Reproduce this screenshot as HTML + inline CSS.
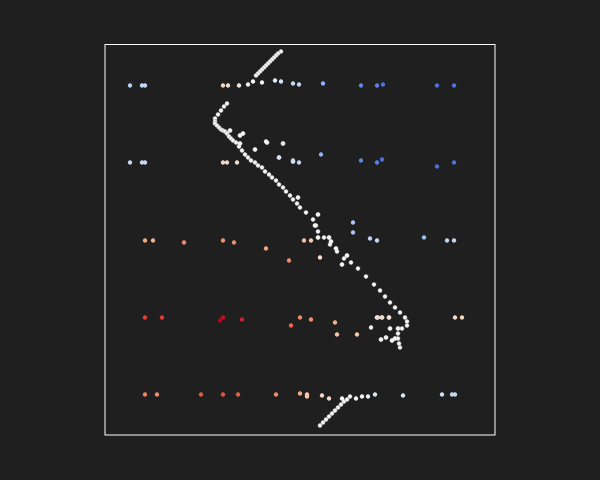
<!DOCTYPE html>
<html><head><meta charset="utf-8"><style>
html,body{margin:0;padding:0;background:#1f1f1f;width:600px;height:480px;overflow:hidden;font-family:"Liberation Sans",sans-serif}
</style></head><body>
<svg id="chart" width="600" height="480" xmlns="http://www.w3.org/2000/svg">
<rect x="105" y="44.5" width="390" height="390.5" fill="#1f1f1f" stroke="#ffffff" stroke-width="1"/>
<g id="pts"></g>
</svg>
<script>
// colored scatter points: x, y (plot offsets), color
const colorX = [25,37,40,118,123,134,143,148,157,170,176,188,194,218,256,272,278,332,349,
 25,37,40,118,122,132,161,178,174,188,194,216,256,272,277,332,349,
 40,48,79,118,129,161,184,199,206,215,248,248,265,272,319,342,349,
 40,57,115,118,137,195,186,206,230,232,252,266,273,277,284,350,357,
 40,52,96,118,133,171,195,202,202,217,224,237,251,257,263,270,298,337,347,350];
const colorY = [41,41,41,41,41,41,40,37,38,36,37,39,40,39,41,41,40,41,41,
 118,118,118,118,118,118,97,99,113,116,118,110,116,118,115,122,118,
 196,196,198,196,198,204,216,196,196,213,178,188,194,196,193,196,196,
 273,273,276,273,275,273,281,275,278,290,290,283,273,273,273,273,273,
 350,350,350,350,350,350,349,350,352,351,354,354,354,352,352,350,351,350,350,350];
const colorC = ["#b7d0f5","#c4d8f5","#c4d8f5","#f3d6c6","#f0dccf","#f1e6dd","#f4f0ee","#f6f6f6","#f2f2f2","#e6edf8","#d8e4f7","#c8dbf6","#bfd4f6","#8fb0f5","#5f85e8","#5a80e8","#4d72e0","#4d72e0","#4d72e0",
 "#c4d8f5","#c4d8f5","#c4d8f5","#f3d6c6","#f3d6c6","#f2dccf","#eef2fa","#dde7f7","#d6e2f7","#c8dbf6","#bfd4f6","#8fb0f5","#5f85e8","#5a80e8","#4d72e0","#4d72e0","#4d72e0",
 "#f4a582","#f4b090","#f08a68","#f0906c","#f08c6a","#f5a584","#f08c68","#f6c0a8","#f6c8b0","#f7ddd0","#a9c6f5","#a9c6f5","#bcd3f6","#c4d8f5","#9fbdf5","#bcd3f6","#c4d8f5",
 "#e04030","#e03a30","#c0001c","#c80c22","#d02030","#f0886a","#e8684a","#f09070","#f6b090","#f7c5a8","#f7c8ac","#f0f0f0","#f2ddd0","#f2ddd0","#f2ddd0","#f6dccc","#f6d4c0",
 "#f08060","#f08c6a","#e05a44","#e05540","#e06048","#f08c6a","#f4ac8a","#f7c8ac","#f7c8ac","#f7d2bc","#f6d8c6","#f2f2f2","#f0f0f0","#f2f2f2","#e8eef8","#dce7f8","#d8e4f7","#cfdef7","#c4d8f5","#c4d8f5"];
// top segment
const topX = [176,173,171,169,167,165,163,161,159,157,155,153,151];
const topY = [7,9,11,13,15,17,19,21,23,25,27,29,31];
// main hooked curve
const mainX = [122,119,116,113,110,110,110,112,114,116,118,120,122,124,126,128,131,134,137,140,143,146,150,153,157,160,164,167,171,174,178,181,185,188,192,195,201,208,211,213,219,225,232,239,246,253,261,269,275,280,285,290,295,300,302,302,297,293,293,294,295];
const mainY = [59,62,66,70,74,77,79,81,83,85,86,87,89,92,94,96,98,102,106,110,113,116,118,121,123,127,130,133,136,140,143,147,151,155,159,163,168,175,181,187,193,200,207,214,218,224,232,240,246,252,258,263,268,273,277,281,284,289,294,299,303];
// scattered white points near the curve
const extraX = [125,135,138,135,150,162,178,174,188,193,213,210,213,224,226,231,242,237,272,277,284,285,293,276,281,287,290];
const extraY = [86,91,89,99,105,98,99,113,117,153,170,181,193,193,197,204,211,220,273,273,273,284,284,295,293,296,294];
// bottom tail
const tailX = [215,218,221,224,227,230,233,236,239,242,245];
const tailY = [381,378,375,372,369,366,363,360,357,355,352];

const X0=105, Y0=44.5;
function sx(v){return X0+v;}
function sy(v){return Y0+v;}
const g=document.getElementById('pts');
const NS="http://www.w3.org/2000/svg";
function whiteSeries(xs,ys,name,stroke){
  for(let i=0;i<xs.length;i++){
    const c=document.createElementNS(NS,'circle');
    c.setAttribute('cx',sx(xs[i]));c.setAttribute('cy',sy(ys[i]));c.setAttribute('r',2.1);
    c.setAttribute('fill','#f4f4f4');c.setAttribute('stroke',stroke);c.setAttribute('stroke-width',0.5);
    
    
    g.appendChild(c);
  }
}
whiteSeries(topX,topY,'top-segment-point','#9a9a9a');
whiteSeries(mainX,mainY,'curve-point','#9a9a9a');
whiteSeries(tailX,tailY,'tail-point','#9a9a9a');
whiteSeries(extraX,extraY,'scatter-white-point','#dddddd');
for(let i=0;i<colorX.length;i++){
  const c=document.createElementNS(NS,'circle');
  c.setAttribute('cx',sx(colorX[i]));c.setAttribute('cy',sy(colorY[i]));c.setAttribute('r',2.2);
  c.setAttribute('fill',colorC[i]);
  
  
  g.appendChild(c);
}
</script>
</body></html>
